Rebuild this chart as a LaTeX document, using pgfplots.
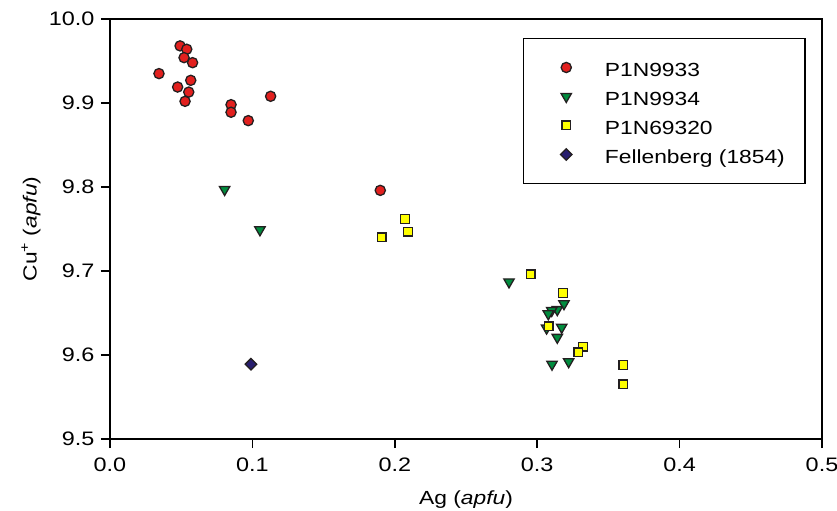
\documentclass[border=0pt]{standalone}
\usepackage{fontspec}
\setmainfont[FakeStretch=1.2]{Liberation Sans}
\usepackage{pgfplots}
\pgfplotsset{compat=1.18}
\definecolor{cred}{RGB}{226,32,30}
\definecolor{cgreen}{RGB}{0,140,62}
\definecolor{cyellow}{RGB}{255,255,0}
\definecolor{cnavy}{RGB}{40,30,110}
\definecolor{cedge}{RGB}{35,31,32}
\begin{document}
\fontsize{19bp}{23bp}\selectfont
\begin{tikzpicture}
\begin{axis}[
  scale only axis, width=712bp, height=420bp,
  xmin=0, xmax=0.5, ymin=9.5, ymax=10.0,
  xtick={0,0.1,0.2,0.3,0.4,0.5},
  ytick={9.5,9.6,9.7,9.8,9.9,10.0},
  /pgf/number format/.cd, fixed, fixed zerofill, precision=1, assume math mode=true,
  /pgfplots/.cd,
  tick align=outside, xtick pos=left, ytick pos=left,
  major tick length=9bp,
  axis line style={line width=1.6bp, black},
  every tick/.style={line width=1.6bp, black},
  tick label style={font=\fontsize{19.5bp}{23bp}\selectfont},
  xticklabel style={yshift=-3bp},
  label style={font=\fontsize{20bp}{24bp}\selectfont},
  xlabel={Ag (\textit{apfu})},
  ylabel={Cu\textsuperscript{+} (\textit{apfu})},
  every axis x label/.style={at={(axis description cs:0.5,0)}, yshift=-61bp, anchor=center},
  every axis y label/.style={at={(axis description cs:0,0.5)}, xshift=-79bp, rotate=90, anchor=center},
  legend image code/.code={\draw[#1] plot coordinates {(0bp,0bp)}; \path (-22bp,0bp) (38bp,10.3bp);},
  legend style={at={(rel axis cs:0.580,0.9548)}, anchor=north west, draw=black, line width=1.3bp,
    inner xsep=20bp, inner ysep=16bp, row sep=3.3bp,
    font=\fontsize{19bp}{23bp}\selectfont,
    nodes={inner sep=0pt, text height=21.7bp, text depth=4bp}},
  legend cell align=left,
  clip=false,
]
\addplot[only marks, mark=*, mark size=5.1bp, mark options={fill=cred, draw=cedge, line width=1.3bp}] coordinates {
(0.0492,9.968) (0.0539,9.964) (0.0520,9.954) (0.0580,9.948) (0.0344,9.935)
(0.0567,9.927) (0.0475,9.919) (0.0553,9.913) (0.0527,9.902) (0.0850,9.898)
(0.0850,9.889) (0.0971,9.879) (0.1128,9.908) (0.1898,9.796)
};
\addlegendentry{P1N9933}
\addplot[only marks, mark=triangle*, mark size=6bp, mark options={rotate=180, fill=cgreen, draw=cedge, line width=1.3bp}] coordinates {
(0.0805,9.797) (0.1053,9.749) (0.2802,9.687) (0.3188,9.661) (0.3141,9.654)
(0.3102,9.653) (0.3078,9.649) (0.3172,9.633) (0.3066,9.632) (0.3141,9.621)
(0.3104,9.589) (0.3221,9.592)
};
\addlegendentry{P1N9934}
\addplot[only marks, mark=square*, mark size=4.35bp, mark options={fill=cyellow, draw=cedge, line width=1.3bp}] coordinates {
(0.2954,9.696) (0.3181,9.674) (0.3081,9.634) (0.3322,9.610) (0.3289,9.603)
(0.3605,9.588) (0.3605,9.565) (0.2072,9.762) (0.2093,9.747) (0.1908,9.740)
};
\addlegendentry{P1N69320}
\addplot[only marks, mark=square*, mark size=4.1bp, mark options={rotate=45, fill=cnavy, draw=cedge, line width=1.3bp}] coordinates {
(0.0990,9.589)
};
\addlegendentry{Fellenberg (1854)}
\end{axis}
\pgfresetboundingbox
\path (-110bp,-72bp) rectangle (727bp,439bp);
\end{tikzpicture}
\end{document}
